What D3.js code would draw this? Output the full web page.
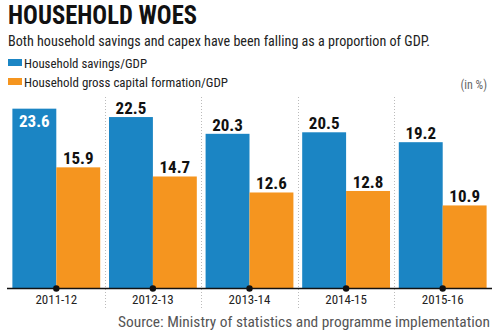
<!DOCTYPE html>
<html>
<head>
<meta charset="utf-8">
<script src="https://cdn.jsdelivr.net/npm/d3@7"></script>
<style>
  body { margin: 0; background: #fff; }
  svg { display: block; }
  text { font-family: "Roboto Condensed", "DejaVu Sans Condensed", sans-serif; }
</style>
</head>
<body>
<svg id="chart" width="501" height="334"></svg>
<script>
var years = ['2011-12', '2012-13', '2013-14', '2014-15', '2015-16'];
var seriesNames = ['Household savings/GDP', 'Household gross capital formation/GDP'];
var savings = [23.6, 22.5, 20.3, 20.5, 19.2];
var capex = [15.9, 14.7, 12.6, 12.8, 10.9];
var colors = ['#1b85c4', '#f5951f'];

var svg = d3.select('#chart');
var base = 288.5;

var x = d3.scaleBand().domain(years).range([8, 491]);
var x1 = d3.scaleBand().domain([0, 1]).range([0, x.bandwidth()]).paddingOuter(0.1);
var y = d3.scaleLinear().domain([0, 25]).range([base, base - 25 * 7.62]);

// shrink/stretch a text to a given width only if it is close already
function fit(sel, w) {
  sel.attr('textLength', w).attr('lengthAdjust', 'spacingAndGlyphs');
  return sel;
}

// heading
fit(svg.append('text').attr('x', 8).attr('y', 24)
  .style('font-size', '25px').style('font-weight', 'bold').style('fill', '#111')
  .text('HOUSEHOLD WOES'), 189);
fit(svg.append('text').attr('x', 8).attr('y', 46)
  .style('font-size', '14px').style('fill', '#222')
  .text('Both household savings and capex have been falling as a proportion of GDP.'), 422);

// legend
var legendW = [123, 204];
seriesNames.forEach(function(name, i) {
  var g = svg.append('g').attr('transform', 'translate(8,' + (59 + i * 19) + ')');
  g.append('rect').attr('width', 14).attr('height', 7).attr('fill', colors[i]);
  fit(g.append('text').attr('x', 16).attr('y', 9)
    .style('font-size', '13px').style('fill', '#222').text(name), legendW[i]);
});
svg.append('text').attr('x', 487).attr('y', 89).attr('text-anchor', 'end')
  .style('font-size', '12px').style('fill', '#666').text('(in %)');

// dotted separators between years
svg.selectAll('.sep').data(years.slice(1)).enter().append('line')
  .attr('x1', function(d) { return Math.round(x(d)) + 0.5; })
  .attr('x2', function(d) { return Math.round(x(d)) + 0.5; })
  .attr('y1', 97).attr('y2', 309)
  .attr('stroke', '#bbb').attr('stroke-dasharray', '1,2');

var groups = svg.selectAll('.yr').data(years).enter().append('g')
  .attr('transform', function(d) { return 'translate(' + x(d) + ',0)'; });

var rows = [savings, capex];
groups.each(function(d, j) {
  var g = d3.select(this);
  rows.forEach(function(vals, i) {
    var v = vals[j];
    g.append('rect')
      .attr('x', x1(i)).attr('width', x1.bandwidth())
      .attr('y', y(v)).attr('height', base - y(v))
      .attr('fill', colors[i]);
    var inside = (i === 0 && j === 0);
    g.append('text')
      .attr('x', x1(i) + x1.bandwidth() / 2)
      .attr('y', inside ? y(v) + 18 : y(v) - 3)
      .attr('text-anchor', 'middle')
      .style('font-size', '17px').style('font-weight', 'bold')
      .style('fill', inside ? '#fff' : '#111')
      .text(v.toFixed(1));
  });
});

// baseline with dots at each year
svg.append('line').attr('x1', 7).attr('x2', 492).attr('y1', base).attr('y2', base)
  .attr('stroke', '#111').attr('stroke-width', 1.5);
groups.append('circle').attr('cx', x.bandwidth() / 2).attr('cy', base).attr('r', 3.2).attr('fill', '#111');
groups.append('text').attr('x', x.bandwidth() / 2).attr('y', 304)
  .attr('text-anchor', 'middle').style('font-size', '13px').style('fill', '#222')
  .text(function(d) { return d; });

fit(svg.append('text').attr('x', 118).attr('y', 327)
  .style('font-size', '15px').style('fill', '#555')
  .text('Source: Ministry of statistics and programme implementation'), 372);
</script>
</body>
</html>
